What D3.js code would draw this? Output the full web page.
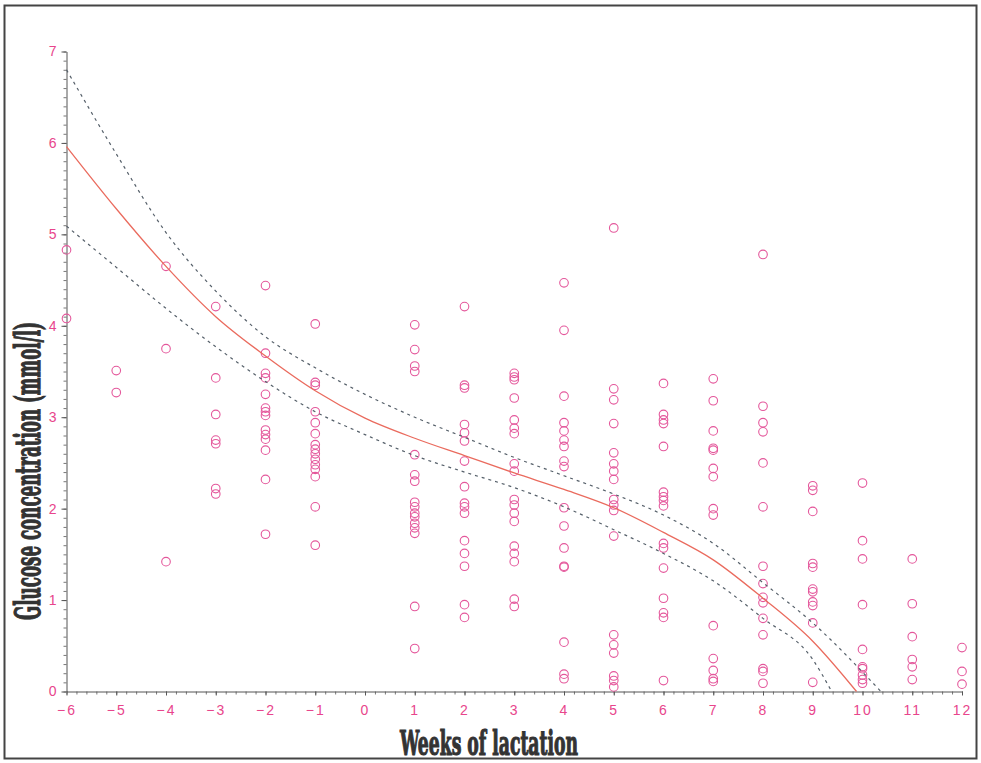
<!DOCTYPE html>
<html lang="en">
<head>
  <meta charset="UTF-8" />
  <title>Glucose concentration by week of lactation</title>
  <script src="https://d3js.org/d3.v7.min.js"></script>
  <style>
    body {
      margin: 0;
      background: #fff;
    }
    svg {
      display: block;
    }
    .tick-label {
      font-family: "Liberation Sans", "DejaVu Sans", sans-serif;
      font-size: 14px;
      fill: #e8458c;
    }
    .axis-title {
      font-family: "DejaVu Serif Condensed", "DejaVu Serif", "Liberation Serif", serif;
      font-weight: bold;
      fill: #333;
      stroke: #333;
      stroke-width: 1.2px;
    }
  </style>
</head>
<body>
  <svg id="chart" width="981" height="763"></svg>

  <script>
    // weeks that have observations (no samples in week 0)
    const weeks = [-6, -5, -4, -3, -2, -1, 1, 2, 3, 4, 5, 6, 7, 8, 9, 10, 11, 12];

    // glucose readings (mmol/l), one list per week above
    const glucose = [
      [4.83, 4.08],
      [3.51, 3.27],
      [4.65, 3.75, 1.42],
      [4.21, 3.43, 3.03, 2.75, 2.71, 2.22, 2.16],
      [4.44, 3.70, 3.48, 3.43, 3.25, 3.10, 3.06, 3.02, 2.86, 2.81, 2.76, 2.64, 2.32, 1.72],
      [4.02, 3.38, 3.35, 3.06, 2.94, 2.82, 2.70, 2.65, 2.60, 2.54, 2.48, 2.43, 2.35, 2.02, 1.60],
      [4.01, 3.74, 3.56, 3.50, 2.59, 2.37, 2.30, 2.07, 2.02, 1.95, 1.91, 1.84, 1.79, 1.73, 0.93, 0.47],
      [4.21, 3.35, 3.32, 2.92, 2.83, 2.74, 2.52, 2.24, 2.06, 2.02, 1.95, 1.65, 1.51, 1.37, 0.95, 0.81],
      [3.48, 3.44, 3.41, 3.21, 2.97, 2.88, 2.82, 2.49, 2.41, 2.10, 2.04, 1.95, 1.86, 1.59, 1.51, 1.42, 1.01, 0.93],
      [4.47, 3.95, 3.23, 2.94, 2.85, 2.75, 2.68, 2.52, 2.46, 2.01, 1.81, 1.57, 1.37, 1.36, 0.54, 0.19, 0.14],
      [5.07, 3.31, 3.19, 2.93, 2.61, 2.49, 2.41, 2.32, 2.10, 2.04, 1.98, 1.70, 0.62, 0.51, 0.42, 0.17, 0.12, 0.05],
      [3.37, 3.03, 2.97, 2.93, 2.68, 2.18, 2.13, 2.09, 2.03, 1.62, 1.57, 1.35, 1.02, 0.86, 0.81, 0.12],
      [3.42, 3.18, 2.85, 2.66, 2.64, 2.44, 2.35, 2.00, 1.93, 0.72, 0.36, 0.23, 0.14, 0.11],
      [4.78, 3.12, 2.94, 2.84, 2.50, 2.02, 1.37, 1.18, 1.03, 0.97, 0.80, 0.62, 0.25, 0.22, 0.09],
      [2.25, 2.20, 1.97, 1.40, 1.36, 1.12, 1.09, 0.98, 0.94, 0.75, 0.10],
      [2.28, 1.65, 1.45, 0.95, 0.46, 0.27, 0.25, 0.18, 0.13, 0.09],
      [1.45, 0.96, 0.60, 0.35, 0.27, 0.13],
      [0.48, 0.22, 0.08]
    ];

    const fitLine = [[-6, 5.96], [-5, 5.28], [-4, 4.65], [-3, 4.10], [-2, 3.67], [-1, 3.29],
      [0, 2.99], [1, 2.77], [2, 2.58], [3, 2.39], [4, 2.21], [5, 2.01], [6, 1.74],
      [7, 1.44], [8, 1.02], [9, 0.55], [9.88, 0]];
    const upperBand = [[-6, 6.80], [-5, 5.88], [-4, 5.02], [-3, 4.38], [-2, 3.88], [-1, 3.54],
      [0, 3.25], [1, 3.00], [2, 2.78], [3, 2.56], [4, 2.36], [5, 2.16], [6, 1.93],
      [7, 1.62], [8, 1.19], [9, 0.75], [10.37, 0]];
    const lowerBand = [[-6, 5.09], [-5, 4.64], [-4, 4.19], [-3, 3.77], [-2, 3.39], [-1, 3.06],
      [0, 2.81], [1, 2.58], [2, 2.40], [3, 2.23], [4, 2.02], [5, 1.77], [6, 1.51],
      [7, 1.21], [8, 0.80], [9, 0.35], [9.38, 0]];

    const xTicks = d3.range(-6, 13);
    const yTicks = d3.range(0, 8);

    const svg = d3.select("#chart");

    const x = d3.scaleLinear().domain([-6, 12]).range([66.5, 962]);
    const y = d3.scaleLinear().domain([0, 7]).range([691.5, 51.5]);

    // outer frame
    svg.append("rect")
      .attr("x", 4.5).attr("y", 5.5)
      .attr("width", 972).attr("height", 753)
      .attr("fill", "none")
      .attr("stroke", "#444")
      .attr("stroke-width", 2);

    // minor ticks
    svg.append("g")
      .attr("transform", `translate(66.5,0)`)
      .call(d3.axisLeft(y).tickValues(d3.range(0, 7.01, 0.1)).tickSize(3).tickFormat(""))
      .call(g => g.select(".domain").remove())
      .call(g => g.selectAll("line").attr("stroke", "#777"));

    svg.append("g")
      .attr("transform", `translate(0,691.5)`)
      .call(d3.axisBottom(x).tickValues(d3.range(-6, 12.01, 0.2)).tickSize(3).tickFormat(""))
      .call(g => g.select(".domain").remove())
      .call(g => g.selectAll("line").attr("stroke", "#777"));

    // main axes
    const yAxis = svg.append("g")
      .attr("transform", `translate(66.5,0)`)
      .call(d3.axisLeft(y).tickValues(yTicks).tickFormat(d3.format("d"))
        .tickSize(5).tickPadding(5).tickSizeOuter(0));

    const xAxis = svg.append("g")
      .attr("transform", `translate(0,691.5)`)
      .call(d3.axisBottom(x).tickValues(xTicks).tickFormat(d3.format("d"))
        .tickSize(4).tickPadding(10).tickSizeOuter(0));

    [xAxis, yAxis].forEach(g => {
      g.select(".domain").attr("stroke", "#555");
      g.selectAll(".tick line").attr("stroke", "#555");
      g.selectAll(".tick text")
        .attr("class", "tick-label")
        .attr("fill", null)
        .attr("font-size", null)
        .attr("font-family", null);
    });
    xAxis.selectAll(".tick text").style("letter-spacing", "2px");

    // scatter of observations
    const points = weeks.flatMap((w, i) => glucose[i].map(v => ({ week: w, value: v })));

    svg.append("g")
      .selectAll("circle")
      .data(points)
      .join("circle")
      .attr("cx", d => x(d.week))
      .attr("cy", d => y(d.value))
      .attr("r", 4.3)
      .attr("fill", "none")
      .attr("stroke", "#e4579b")
      .attr("stroke-width", 1.1);

    // fitted curve + band
    const line = d3.line().curve(d3.curveMonotoneX).x(d => x(d[0])).y(d => y(d[1]));

    svg.append("path")
      .attr("d", line(fitLine))
      .attr("fill", "none")
      .attr("stroke", "#ea6b5e")
      .attr("stroke-width", 1.3);

    [upperBand, lowerBand].forEach(band => {
      svg.append("path")
        .attr("d", line(band))
        .attr("fill", "none")
        .attr("stroke", "#56606a")
        .attr("stroke-width", 1.2)
        .attr("stroke-dasharray", "3,4");
    });

    // axis titles
    svg.append("text")
      .attr("class", "axis-title")
      .attr("x", 400)
      .attr("y", 755)
      .attr("font-size", 34)
      .attr("textLength", 178)
      .attr("lengthAdjust", "spacingAndGlyphs")
      .text("Weeks of lactation");

    svg.append("text")
      .attr("class", "axis-title")
      .attr("transform", "translate(40,620) rotate(-90)")
      .attr("font-size", 36)
      .attr("textLength", 298)
      .attr("lengthAdjust", "spacingAndGlyphs")
      .text("Glucose concentration (mmol/l)");
  </script>
</body>
</html>
